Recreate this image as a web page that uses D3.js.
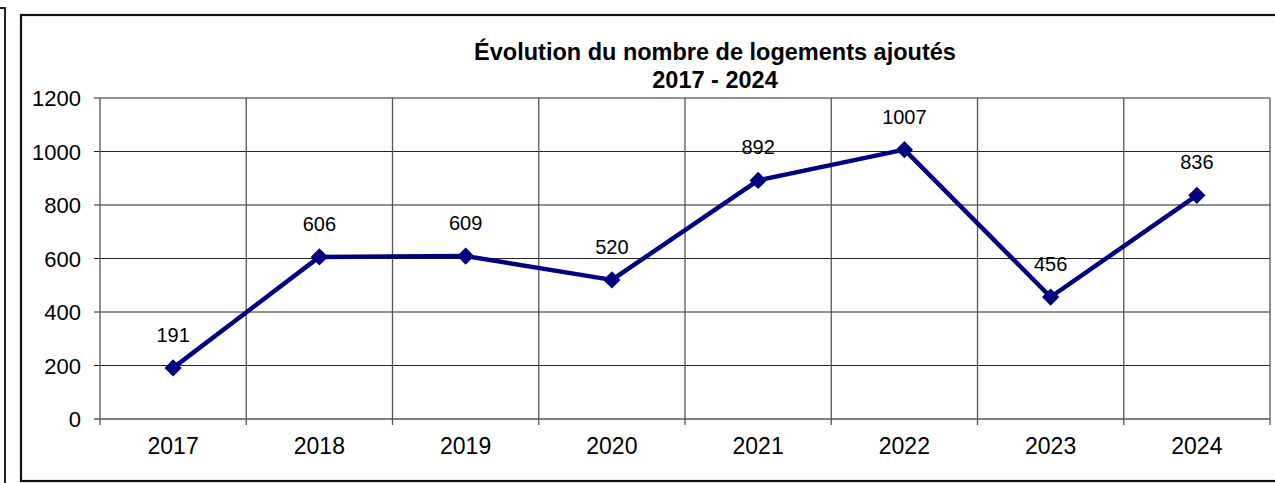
<!DOCTYPE html>
<html>
<head>
<meta charset="utf-8">
<script src="https://cdn.jsdelivr.net/npm/d3@7"></script>
<style>
  body { margin: 0; background: #fff; }
  svg { display: block; font-family: "Liberation Sans", Arial, sans-serif; }
</style>
</head>
<body>
<svg></svg>
<script>
const years = ["2017", "2018", "2019", "2020", "2021", "2022", "2023", "2024"];
const logements = [191, 606, 609, 520, 892, 1007, 456, 836];
const yTicks = [0, 200, 400, 600, 800, 1000, 1200];
const titleLines = ["Évolution du nombre de logements ajoutés", "2017 - 2024"];

const size = { w: 1275, h: 483 };
const plot = { l: 100, t: 98, r: 1270, b: 419 };

const svg = d3.select("svg").attr("width", size.w).attr("height", size.h);

// outer frames
svg.append("path")
  .attr("d", "M0,8H5V483")
  .attr("fill", "none").attr("stroke", "#222").attr("stroke-width", 2);
svg.append("rect")
  .attr("x", 21).attr("y", 15).attr("width", 1270).attr("height", 466)
  .attr("fill", "none").attr("stroke", "#111").attr("stroke-width", 2.2);

// title
svg.append("text")
  .attr("text-anchor", "middle")
  .style("font-weight", "bold").style("font-size", "23.5px")
  .selectAll("tspan")
  .data(titleLines)
  .join("tspan")
  .attr("x", 715)
  .attr("y", (d, i) => 60 + i * 28)
  .text(d => d);

const x = d3.scaleBand().domain(years).range([plot.l, plot.r]);
const y = d3.scaleLinear().domain([0, 1200]).range([plot.b, plot.t]);

// horizontal grid
svg.append("g")
  .selectAll("line")
  .data(yTicks)
  .join("line")
  .attr("x1", plot.l - 6).attr("x2", plot.r)
  .attr("y1", d => y(d)).attr("y2", d => y(d))
  .attr("stroke", d => d === 0 ? "#000" : "#222")
  .attr("stroke-width", 1);

// vertical grid at band boundaries
const bounds = years.map(d => x(d)).concat([plot.r]);
svg.append("g")
  .selectAll("line")
  .data(bounds)
  .join("line")
  .attr("x1", d => d).attr("x2", d => d)
  .attr("y1", plot.t).attr("y2", plot.b + 6)
  .attr("stroke", "#555")
  .attr("stroke-width", 1.3);

// y labels
svg.append("g")
  .selectAll("text")
  .data(yTicks)
  .join("text")
  .attr("x", 81)
  .attr("y", d => y(d) + 8)
  .attr("text-anchor", "end")
  .style("font-size", "22px")
  .text(d => d);

// x labels
svg.append("g")
  .selectAll("text")
  .data(years)
  .join("text")
  .attr("x", d => x(d) + x.bandwidth() / 2)
  .attr("y", 454)
  .attr("text-anchor", "middle")
  .style("font-size", "23px")
  .text(d => d);

// line + markers
const pts = years.map((d, i) => ({ year: d, v: logements[i] }));
const line = d3.line()
  .x(d => x(d.year) + x.bandwidth() / 2)
  .y(d => y(d.v));

svg.append("path")
  .datum(pts)
  .attr("d", line)
  .attr("fill", "none")
  .attr("stroke", "#000080")
  .attr("stroke-width", 4.5)
  .attr("stroke-linejoin", "round");

svg.append("g")
  .selectAll("path")
  .data(pts)
  .join("path")
  .attr("transform", d => `translate(${x(d.year) + x.bandwidth() / 2},${y(d.v)})`)
  .attr("d", d3.symbol().type(d3.symbolDiamond2).size(190))
  .attr("fill", "#000080");

// value labels
svg.append("g")
  .selectAll("text")
  .data(pts)
  .join("text")
  .attr("x", d => x(d.year) + x.bandwidth() / 2)
  .attr("y", d => y(d.v) - 26)
  .attr("text-anchor", "middle")
  .style("font-size", "20px")
  .text(d => d.v);
</script>
</body>
</html>
